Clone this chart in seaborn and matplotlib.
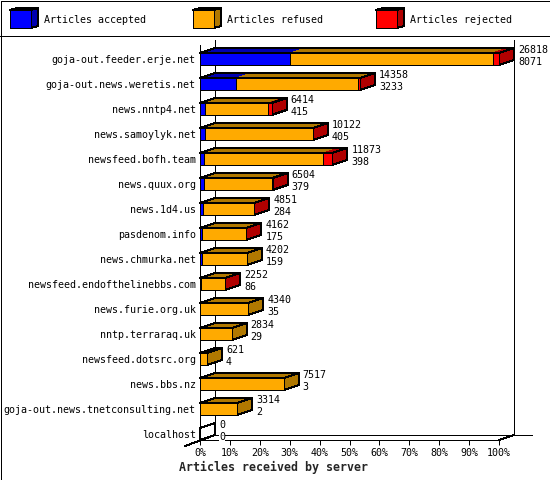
import matplotlib
matplotlib.use("Agg")
import matplotlib.pyplot as plt
from matplotlib.lines import Line2D
from matplotlib.patches import Polygon
from matplotlib.transforms import Affine2D
import numpy as np
import pandas as pd
import seaborn as sns

servers = ["goja-out.feeder.erje.net", "goja-out.news.weretis.net", "news.nntp4.net",
           "news.samoylyk.net", "newsfeed.bofh.team", "news.quux.org", "news.1d4.us",
           "pasdenom.info", "news.chmurka.net", "newsfeed.endofthelinebbs.com",
           "news.furie.org.uk", "nntp.terraraq.uk", "newsfeed.dotsrc.org", "news.bbs.nz",
           "goja-out.news.tnetconsulting.net", "localhost"]
total = [26818, 14358, 6414, 10122, 11873, 6504, 4851, 4162, 4202, 2252, 4340, 2834, 621, 7517, 3314, 0]
accepted = [8071, 3233, 415, 405, 398, 379, 284, 175, 159, 86, 35, 29, 4, 3, 2, 0]
rejected = [560, 200, 280, 25, 840, 20, 25, 20, 0, 15, 0, 0, 0, 0, 0, 0]
legend_labels = ["Articles accepted", "Articles refused", "Articles rejected"]
tick_labels = ["0%", "10%", "20%", "30%", "40%", "50%", "60%", "70%", "80%", "90%", "100%"]
xlabel = "Articles received by server"

FRONT = ["#0000FF", "#FFAA00", "#FF0000"]
DARK = ["#0000B0", "#B07800", "#B00000"]

sns.set_theme(style="white")
plt.rcParams.update({
    "font.family": ["DejaVu Sans Mono"],
    "lines.antialiased": False,
    "patch.antialiased": False,
    "text.color": "black",
    "xtick.color": "black",
    "ytick.color": "black",
})

LW = 0.72
FS = 7.2
W, H = 550, 480
fig = plt.figure(figsize=(W / 100, H / 100), dpi=100, facecolor="white")
L, R, T, B = 200, 499, 45, 440
ax = fig.add_axes([L / W, 1 - B / H, (R - L) / W, (B - T) / H])
ax.patch.set_alpha(0)
px = Affine2D().scale(1, -1).translate(0, H)

scale = 100 / max(total)
df = pd.DataFrame({"server": servers, "total": total, "accepted": accepted, "rejected": rejected})
df["refused"] = df["total"] - df["accepted"] - df["rejected"]
p_acc = df["accepted"] * scale
p_ref = df["refused"] * scale
p_rej = df["rejected"] * scale
lefts = [np.zeros(len(df)), p_acc.values, (p_acc + p_ref).values]
widths = [p_acc.values, p_ref.values, p_rej.values]

for i in range(3):
    sns.barplot(x=widths[i], y=df["server"], left=lefts[i], color=FRONT[i], saturation=1,
                width=0.48, edgecolor="black", linewidth=LW, ax=ax, zorder=3, errorbar=None)

ax.set_xlim(0, 100)
ax.set_ylim((B - 59) / 25, (T - 59) / 25)

DX = 15 * 100 / (R - L)   # depth in x data units
DY = 5 / 25               # depth in row units
H2 = 0.24

for y in range(len(df)):
    segs = [(lefts[k][y], widths[k][y], k) for k in range(3)]
    end = lefts[2][y] + widths[2][y]
    top, bot = y - H2, y + H2
    last = None
    for l, w, k in segs:
        if w > 0:
            last = k
            ax.add_patch(Polygon([(l, top), (l + w, top), (l + w + DX, top - DY), (l + DX, top - DY)],
                                 facecolor=DARK[k], edgecolor="none", lw=0, zorder=2, clip_on=False))
    ax.add_patch(Polygon([(0, top), (end, top), (end + DX, top - DY), (DX, top - DY)],
                         fill=False, edgecolor="black", lw=LW, zorder=2.2, clip_on=False))
    ax.add_patch(Polygon([(end, top), (end + DX, top - DY), (end + DX, bot - DY), (end, bot)],
                         facecolor=DARK[last] if last is not None else "none", edgecolor="black",
                         lw=LW, zorder=2.4, clip_on=False))
    ax.annotate(str(total[y]), xy=(end, y), xytext=(19, 9), textcoords="offset pixels", va="center",
                fontsize=FS, zorder=6, bbox=dict(facecolor="white", edgecolor="none", pad=0))
    ax.annotate(str(accepted[y]), xy=(end, y), xytext=(19, -3), textcoords="offset pixels", va="center",
                fontsize=FS, zorder=6, bbox=dict(facecolor="white", edgecolor="none", pad=0))


def pline(xs, ys, z=0.5):
    ax.add_line(Line2D(xs, ys, color="black", lw=LW, transform=px, clip_on=False, zorder=z))


pline([215, 215], [40, 435])
pline([514, 514], [40, 435])
pline([215, 532], [435, 435])
pline([185, 215], [446, 435])
pline([499, 514], [440, 435])
pline([0.5, 549.5, 549.5, 0.5, 0.5], [0.5, 0.5, 479.5, 479.5, 0.5], z=5)
pline([0, 550], [35.5, 35.5], z=5)

for s in ["top", "right"]:
    ax.spines[s].set_visible(False)
for s in ["left", "bottom"]:
    ax.spines[s].set_linewidth(LW)
    ax.spines[s].set_color("black")
ax.grid(False)
ax.set_ylabel("")
ax.set_xticks(np.arange(0, 101, 10), tick_labels, fontsize=FS)
ax.tick_params(axis="x", length=3.6, width=LW, pad=2, bottom=True)
ax.tick_params(axis="y", length=0, pad=3, labelsize=FS)
ax.set_xlabel(xlabel, fontsize=8.4, fontweight="bold", ha="left")
ax.xaxis.set_label_coords(179, 467, transform=px)
ax.xaxis.label.set_va("center")

for (x0, lab, f, d) in zip([10, 193, 376], legend_labels, FRONT, DARK):
    ax.add_patch(Polygon([(x0 + 21, 10), (x0 + 28, 8), (x0 + 28, 26), (x0 + 21, 28)], facecolor=d,
                         edgecolor="black", lw=LW, transform=px, clip_on=False))
    ax.add_patch(Polygon([(x0, 10), (x0 + 7, 8), (x0 + 28, 8), (x0 + 21, 10)], facecolor=d,
                         edgecolor="black", lw=LW, transform=px, clip_on=False))
    ax.add_patch(Polygon([(x0, 10), (x0 + 21, 10), (x0 + 21, 28), (x0, 28)], facecolor=f,
                         edgecolor="black", lw=LW, transform=px, clip_on=False))
    ax.text(x0 + 34, 20, lab, transform=px, va="center", ha="left", fontsize=FS, clip_on=False)

fig.savefig("out.png", dpi=100)
